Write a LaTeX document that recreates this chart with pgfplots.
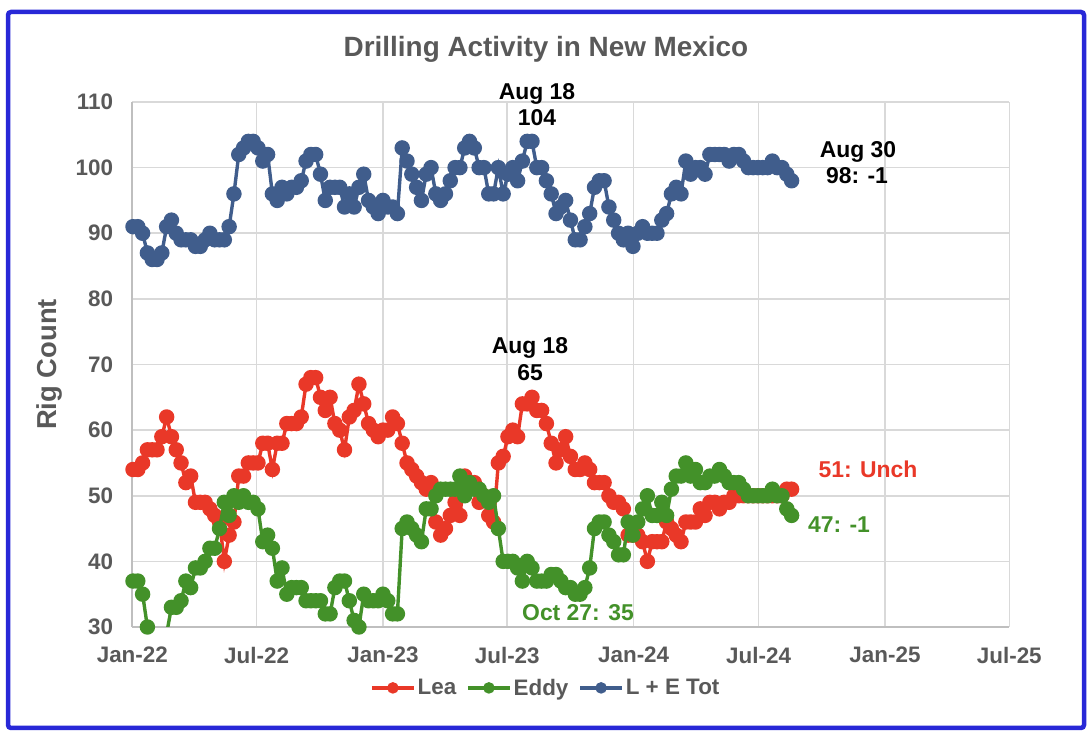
\documentclass[border=0pt]{standalone}
\usepackage{pgfplots}
\pgfplotsset{compat=1.18}
\usepackage{pgfplotstable}
\usepackage{fontspec}
\setmainfont{Liberation Sans}
\definecolor{leared}{RGB}{233,56,40}
\definecolor{eddygreen}{RGB}{67,145,41}
\definecolor{totblue}{RGB}{64,93,140}
\definecolor{txtgray}{RGB}{89,89,89}
\definecolor{gridgray}{RGB}{217,217,217}
\definecolor{axgray}{RGB}{191,191,191}
\definecolor{frameblue}{RGB}{40,40,215}
\pgfplotstableread{
day lea eddy tot
1 54 37 91
8 54 37 91
15 55 35 90
22 57 30 87
29 57 29 86
36 57 29 86
43 59 28 87
50 62 29 91
57 59 33 92
64 57 33 90
71 55 34 89
78 52 37 89
85 53 36 89
92 49 39 88
99 49 39 88
106 49 40 89
113 48 42 90
120 47 42 89
127 46 45 89
134 40 49 89
141 44 47 91
148 46 50 96
155 53 49 102
162 53 50 103
169 55 49 104
176 55 49 104
183 55 48 103
190 58 43 101
197 58 44 102
204 54 42 96
211 58 37 95
218 58 39 97
225 61 35 96
232 61 36 97
239 61 36 97
246 62 36 98
253 67 34 101
260 68 34 102
267 68 34 102
274 65 34 99
281 63 32 95
288 65 32 97
295 61 36 97
302 60 37 97
309 57 37 94
316 62 34 96
323 63 31 94
330 67 30 97
337 64 35 99
344 61 34 95
351 60 34 94
358 59 34 93
365 60 35 95
372 60 34 94
379 62 32 94
386 61 32 93
393 58 45 103
400 55 46 101
407 54 45 99
414 53 44 97
421 52 43 95
428 51 48 99
435 52 48 100
442 46 50 96
449 44 51 95
456 45 51 96
463 47 51 98
470 49 51 100
477 47 53 100
484 53 50 103
491 52 52 104
498 52 51 103
505 49 51 100
512 50 50 100
519 47 49 96
526 46 50 96
533 55 45 100
540 56 40 96
547 59 40 99
554 60 40 100
561 59 39 98
568 64 37 101
575 64 40 104
582 65 39 104
589 63 37 100
596 63 37 100
603 61 37 98
610 58 38 96
617 55 38 93
624 57 37 94
631 59 36 95
638 56 36 92
645 54 35 89
652 54 35 89
659 55 36 91
666 54 39 93
673 52 45 97
680 52 46 98
687 52 46 98
694 50 44 94
701 49 43 92
708 49 41 90
715 48 41 89
722 44 46 90
729 44 44 88
736 44 46 90
743 43 48 91
750 40 50 90
757 43 47 90
764 43 47 90
771 43 49 92
778 46 47 93
785 45 51 96
792 44 53 97
799 43 53 96
806 46 55 101
813 46 53 99
820 46 54 100
827 48 52 100
834 47 52 99
841 49 53 102
848 49 53 102
855 48 54 102
862 49 53 102
869 49 52 101
876 50 52 102
883 50 52 102
890 50 51 101
897 50 50 100
904 50 50 100
911 50 50 100
918 50 50 100
925 50 50 100
932 50 51 101
939 50 50 100
946 50 50 100
953 51 48 99
960 51 47 98
}\rigdata
\newcommand{\tickfont}{\fontsize{22.5}{26}\selectfont\bfseries}
\newcommand{\annfont}{\fontsize{23}{27}\selectfont\bfseries}
\begin{document}
\begin{tikzpicture}
\useasboundingbox (0bp,0bp) rectangle (1088bp,732bp);
\draw[frameblue, line width=4.5bp, rounded corners=3bp] (8bp,4bp) rectangle (1084bp,720bp);
\begin{axis}[
  at={(132.3bp,105bp)}, anchor=south west,
  scale only axis, width=877bp, height=525bp,
  xmin=0, xmax=1277, ymin=30, ymax=110,
  xtick={0,181,365,546,730,912,1096,1277},
  xticklabels={Jan-22,Jul-22,Jan-23,Jul-23,Jan-24,Jul-24,Jan-25,Jul-25},
  ytick={30,40,...,110},
  grid=major,
  major grid style={gridgray, line width=1.6bp},
  axis x line*=bottom, axis y line*=left,
  axis line style={axgray, line width=2bp, -},
  major tick length=0pt,
  tick label style={font=\tickfont, text=txtgray},
  /pgf/number format/assume math mode=true,
  yticklabel style={inner sep=0pt, xshift=-19bp},
  xticklabel style={inner sep=0pt, yshift=-20bp},
  ylabel={Rig Count},
  ylabel style={at={(axis description cs:-0.094,0.5)}, anchor=center, font=\fontsize{27.5}{30}\selectfont\bfseries, text=txtgray},
  clip mode=individual,
  legend style={at={(0.4715,-0.116)}, anchor=center, draw=none, fill=none,
    font=\fontsize{22.5}{26}\selectfont\bfseries, text=txtgray,
    /tikz/every even column/.append style={column sep=8bp}},
  legend columns=3,
  legend cell align=left,
  legend image code/.code={\draw[#1, mark size=4bp, mark repeat=2, mark phase=2] plot coordinates {(0bp,0bp) (21bp,0bp) (42bp,0bp)};},
]
\addplot[color=leared, line width=3.4bp, mark=*, mark size=6bp, mark options={solid, fill=leared, draw=none}] table[x=day, y=lea] {\rigdata};
\addlegendentry{Lea}
\addplot[color=eddygreen, line width=3.4bp, mark=*, mark size=6bp, mark options={solid, fill=eddygreen, draw=none}] table[x=day, y=eddy] {\rigdata};
\addlegendentry{Eddy}
\addplot[color=totblue, line width=3.4bp, mark=*, mark size=6bp, mark options={solid, fill=totblue, draw=none}] table[x=day, y=tot] {\rigdata};
\addlegendentry{L + E Tot}
\end{axis}
\node[anchor=base, font=\fontsize{28}{32}\selectfont\bfseries, text=txtgray] at (546bp,675bp) {Drilling Activity in New Mexico};
\node[anchor=base, font=\annfont] at (537bp,632bp) {Aug 18};
\node[anchor=base, font=\annfont] at (537bp,606bp) {104};
\node[anchor=base, font=\annfont] at (858bp,574bp) {Aug 30};
\node[anchor=base, font=\annfont] at (857bp,548bp) {98: -1};
\node[anchor=base, font=\annfont] at (530bp,378bp) {Aug 18};
\node[anchor=base, font=\annfont] at (530bp,351bp) {65};
\node[anchor=base, font=\annfont, text=leared] at (868bp,254bp) {51: Unch};
\node[anchor=base, font=\annfont, text=eddygreen] at (839bp,199bp) {47: -1};
\node[anchor=base, font=\annfont, text=eddygreen] at (578bp,111bp) {Oct 27: 35};
\end{tikzpicture}
\end{document}
